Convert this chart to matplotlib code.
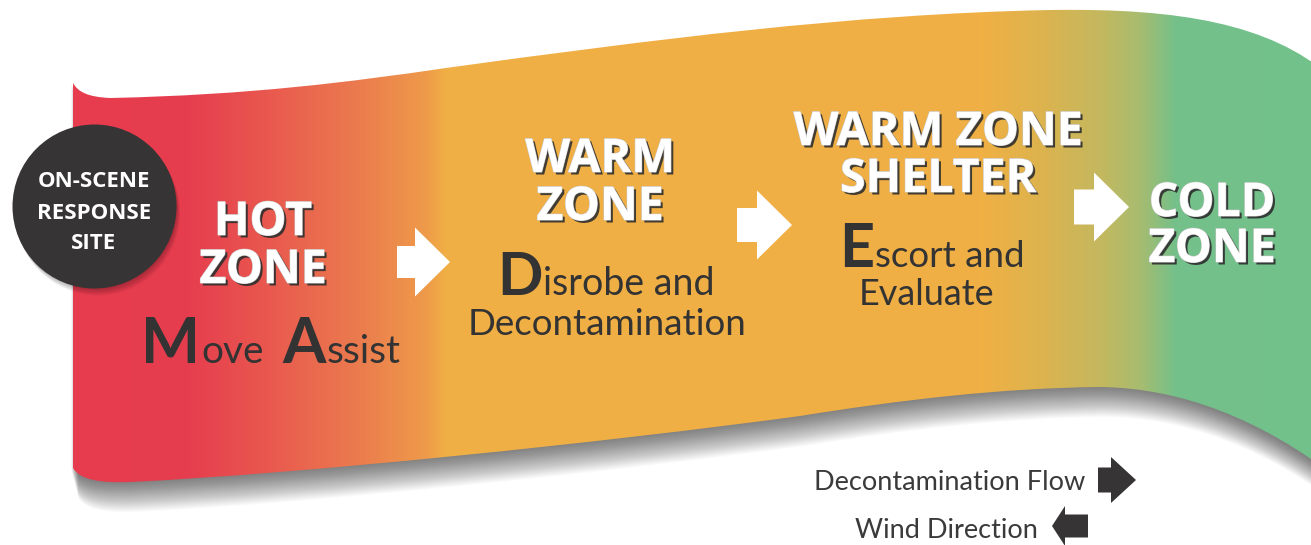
import numpy as np
import matplotlib
matplotlib.use('Agg')
import matplotlib.pyplot as plt
from matplotlib.path import Path
from matplotlib.patches import PathPatch, Polygon, Circle
import matplotlib.patheffects as pe

# content
site_lines = ['ON-SCENE', 'RESPONSE', 'SITE']
zone_titles = [['HOT', 'ZONE'], ['WARM', 'ZONE'], ['WARM ZONE', 'SHELTER'], ['COLD', 'ZONE']]
legend_labels = ['Decontamination Flow', 'Wind Direction']

# gradient along the banner (x in px, colour)
grad_x = [73, 190, 270, 360, 425, 446, 980, 1040, 1100, 1140, 1175, 1340]
grad_colors = ['#E63C4E', '#E63E4E', '#E9594F', '#EB7C4E', '#EE9A4A', '#F0AF44',
               '#F0B044', '#DDB34E', '#C4B85F', '#A7BC70', '#74C08A', '#72C18B']

W, H = 1311, 545
fig = plt.figure(figsize=(W / 100, H / 100), dpi=100)
ax = fig.add_axes([0, 0, 1, 1])
ax.set_xlim(0, W)
ax.set_ylim(H, 0)
ax.axis('off')
renderer = fig.canvas.get_renderer()

TITLE_FONT = 'Open Sans'
BODY_FONT = 'Lato'
DARK = '#363435'


def banner_path(dx=0, dy=0):
    M, C, L = Path.MOVETO, Path.CURVE4, Path.LINETO
    verts = [(73, 83),
             (78, 92), (88, 97), (110, 98),
             (250, 95), (350, 82), (446, 68),
             (650, 40), (850, 14), (1050, 10),
             (1180, 8), (1270, 24), (1330, 76),
             (1340, 480),
             (1260, 418), (1180, 388), (1100, 387),
             (1000, 388), (900, 400), (800, 416),
             (600, 443), (300, 474), (130, 482),
             (100, 483), (80, 480), (73, 468),
             (73, 83)]
    codes = [M, C, C, C, C, C, C, C, C, C, C, C, C, L, C, C, C, C, C, C, C, C, C, C, C, C, L]
    verts = [(x + dx, y + dy) for x, y in verts]
    return Path(verts, codes)


# soft shadow under the banner
for d in np.arange(1, 31):
    ax.add_patch(PathPatch(banner_path(0.25 * d - 2, d), fc='black', ec='none', alpha=0.02))

banner = PathPatch(banner_path(), fc='none', ec='none')
ax.add_patch(banner)

xs = np.arange(0, 1340)
rgb = [np.array([int(c[i:i + 2], 16) for c in grad_colors]) / 255 for i in (1, 3, 5)]
img = np.stack([np.interp(xs, grad_x, ch) for ch in rgb], axis=-1)[None, :, :]
im = ax.imshow(img, extent=[0, 1340, H, 0], aspect='auto', zorder=1)
im.set_clip_path(banner)

# on-scene circle
for d in np.arange(1, 8):
    ax.add_patch(Circle((94.5 + 0.5 * d, 206.5 + d), 82, fc='black', ec='none', alpha=0.04, zorder=2))
ax.add_patch(Circle((94.5, 206.5), 82, fc=DARK, ec='none', zorder=3))
for line, y in zip(site_lines, [187, 219, 249]):
    ax.text(94, y, line, ha='center', va='baseline', color='white', fontsize=16,
            fontweight='bold', family=TITLE_FONT, zorder=4)

# zone titles
title_fx = [pe.SimplePatchShadow(offset=(1.8, -1.8), shadow_rgbFace='#2e2e2e', alpha=0.9),
            pe.Stroke(linewidth=0.8, foreground='#c8c8c8'), pe.Normal()]
title_pos = [(263, [235, 283]), (600, [172, 220]), (938, [145, 192]), (1212, [216, 262])]
for lines, (cx, ys) in zip(zone_titles, title_pos):
    for line, y in zip(lines, ys):
        ax.text(cx, y, line, ha='center', va='baseline', color='white', fontsize=33.5,
                fontweight='bold', family=TITLE_FONT, path_effects=title_fx, zorder=5)


def word(x, y, s, size, ha='left', weight='normal'):
    t = ax.text(x, y, s, ha=ha, va='baseline', color='#333333', fontsize=size,
                fontweight=weight, family=BODY_FONT, zorder=5)
    bb = t.get_window_extent(renderer)
    return ax.transData.inverted().transform((bb.x1, bb.y0))[0]


def initial_word(x, y, big, rest, big_size, rest_size):
    x_end = word(x, y, big, big_size, weight='bold')
    return word(x_end + 1, y, rest, rest_size)


# action words with big initials
initial_word(141, 363, 'M', 'ove', 45, 28)
initial_word(282, 363, 'A', 'ssist', 45, 28)

initial_word(497, 295, 'D', 'isrobe and', 43, 27)
word(607, 335, 'Decontamination', 26.5, ha='center')

initial_word(839, 267, 'E', 'scort and', 44, 26.5)
word(927, 305, 'Evaluate', 26, ha='center')


def block_arrow(x0, yc, length, shaft_len, shaft_h, head_h, color, left=False):
    pts = [(0, -shaft_h / 2), (shaft_len, -shaft_h / 2), (shaft_len, -head_h / 2),
           (length, 0), (shaft_len, head_h / 2), (shaft_len, shaft_h / 2), (0, shaft_h / 2)]
    if left:
        pts = [(length - px, py) for px, py in pts]
    pts = [(x0 + px, yc + py) for px, py in pts]
    ax.add_patch(Polygon(pts, closed=True, fc=color, ec='none', zorder=6))


block_arrow(397, 262, 53, 18, 32, 69, 'white')
block_arrow(737, 225, 55, 20, 34, 69, 'white')
block_arrow(1074, 207, 55, 20, 35, 69, 'white')

# legend
ax.text(1085, 490, legend_labels[0], ha='right', va='baseline', color='#3a3a3a',
        fontsize=19.5, family=BODY_FONT, zorder=5)
block_arrow(1098, 480, 38, 13, 25, 46, DARK)
ax.text(1038, 538, legend_labels[1], ha='right', va='baseline', color='#3a3a3a',
        fontsize=19.5, family=BODY_FONT, zorder=5)
block_arrow(1052, 526, 36, 23, 23, 40, DARK, left=True)

fig.savefig('out.png', dpi=100)
